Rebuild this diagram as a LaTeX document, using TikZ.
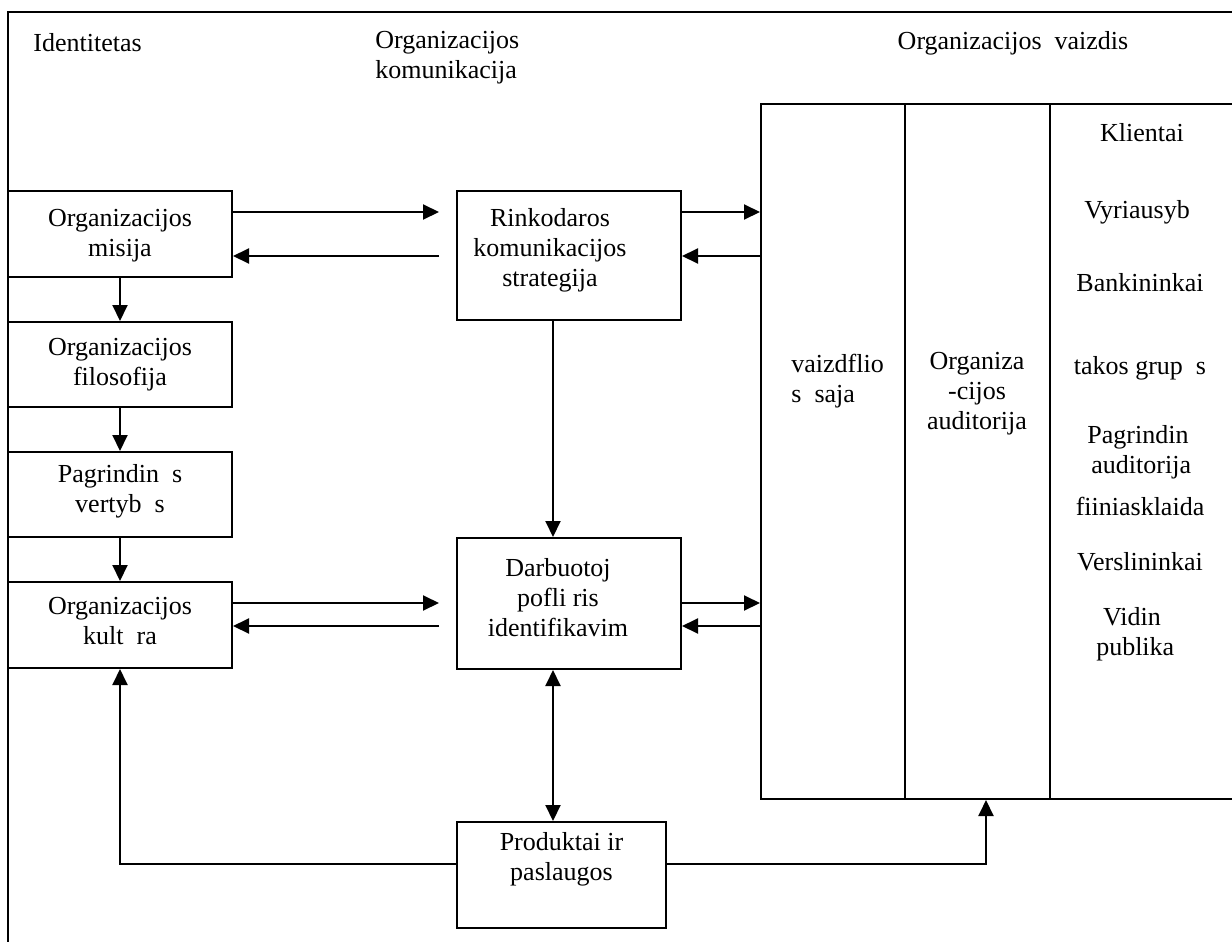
\documentclass[tikz,border=0pt]{standalone}
\usepackage{fontspec}
\setmainfont{Liberation Serif}
\usetikzlibrary{arrows.meta}
\newcommand{\dfs}{\fontsize{13}{15}\selectfont}
\begin{document}
\begin{tikzpicture}[x=0.5pt,y=-0.5pt,
  box/.style={draw,line width=1pt,inner sep=0pt,align=center,font=\dfs},
  lbl/.style={inner sep=0pt,align=center,font=\dfs},
  arr/.style={line width=1pt,-{Triangle[length=8pt,width=7.5pt]}},
  dblarr/.style={line width=1pt,{Triangle[length=8pt,width=7.5pt]}-{Triangle[length=8pt,width=7.5pt]}},
  plain/.style={line width=1pt}]
\useasboundingbox (0,0) rectangle (1232,942);
\clip (0,0) rectangle (1232,942);
% outer frame
\draw[plain] (8,12) rectangle (1270,990);
% headings
\node[lbl,anchor=west] (hid) at (33,43) {Identitetas};
\node[lbl,anchor=west,align=left] (hkom) at (375,58) {Organizacijos\\komunikacija};
\node[lbl] (hvaiz) at (1013,43) {Organizacijos\ \ vaizdis};
% left column
\node[box,minimum width=112pt,minimum height=43pt] (mis) at (120,234) {};
\node[lbl] (mist) at (120,236) {Organizacijos\\misija};
\node[box,minimum width=112pt,minimum height=42.5pt] (fil) at (120,364.5) {Organizacijos\\filosofija};
\node[box,minimum width=112pt,minimum height=42.5pt] (ver) at (120,494.5) {};
\node[lbl] (vert) at (120,491) {Pagrindin\ \ s\\vertyb\ \ s};
\node[box,minimum width=112pt,minimum height=43pt] (kul) at (120,625) {};
\node[lbl] (kult) at (120,621) {Organizacijos\\kult\ \ ra};
% middle column
\node[box,minimum width=112pt,minimum height=64.5pt] (rink) at (569,255.5) {};
\node[lbl] (rinkt) at (550,250) {Rinkodaros\\komunikacijos\\strategija};
\node[box,minimum width=112pt,minimum height=65.5pt] (darb) at (569,603.5) {};
\node[lbl] (darbt) at (558,598) {Darbuotoj\\pofli\ ris\\identifikavim};
\node[box,minimum width=104.5pt,minimum height=53pt] (prod) at (561.5,875) {};
\node[lbl] (prodt) at (561.5,859) {Produktai ir\\paslaugos};
% right block
\node[box,minimum width=72pt,minimum height=347.5pt] (col1) at (833,451.5) {};
\node[box,minimum width=72.5pt,minimum height=347.5pt] (col2) at (977.5,451.5) {};
\node[box,minimum width=95pt,minimum height=347.5pt] (col3) at (1145,451.5) {};
\node[lbl,anchor=west,align=left] (c1t) at (791,381) {vaizdflio\\s\ \ saja};
\node[lbl] (c2t) at (977,394) {Organiza\\-cijos\\auditorija};
\node[lbl] (k1) at (1142,133) {Klientai};
\node[lbl] (k2) at (1137,212) {Vyriausyb};
\node[lbl] (k3) at (1140,283) {Bankininkai};
\node[lbl] (k4) at (1140,368) {takos grup\ \ s};
\node[lbl] (k5) at (1138,452) {Pagrindin\\\ auditorija};
\node[lbl] (k6) at (1140,506) {fiiniasklaida};
\node[lbl] (k7) at (1140,562) {Verslininkai};
\node[lbl] (k8) at (1132,634) {Vidin\\\ publika};
% connector guides
\coordinate (r1) at (0,212);
\coordinate (r2) at (0,256);
\coordinate (r3) at (0,603);
\coordinate (r4) at (0,626);
\coordinate (r5) at (0,864);
\coordinate (v1) at (553,0);
\coordinate (v2) at (986,0);
% connectors
\draw[arr] (mis.south) -- (fil.north);
\draw[arr] (fil.south) -- (ver.north);
\draw[arr] (ver.south) -- (kul.north);
\draw[arr,shorten >=8.5pt] (mis.east |- r1) -- (rink.west |- r1);
\draw[arr,shorten <=8.5pt] (rink.west |- r2) -- (mis.east |- r2);
\draw[arr] (rink.east |- r1) -- (col1.west |- r1);
\draw[arr] (col1.west |- r2) -- (rink.east |- r2);
\draw[arr,shorten >=8.5pt] (kul.east |- r3) -- (darb.west |- r3);
\draw[arr,shorten <=8.5pt] (darb.west |- r4) -- (kul.east |- r4);
\draw[arr] (darb.east |- r3) -- (col1.west |- r3);
\draw[arr] (col1.west |- r4) -- (darb.east |- r4);
\draw[arr] (rink.south -| v1) -- (darb.north -| v1);
\draw[dblarr] (darb.south -| v1) -- (prod.north -| v1);
\draw[arr] (prod.west |- r5) -| (kul.south);
\draw[arr] (prod.east |- r5) -| (col2.south -| v2);
\end{tikzpicture}
\end{document}
